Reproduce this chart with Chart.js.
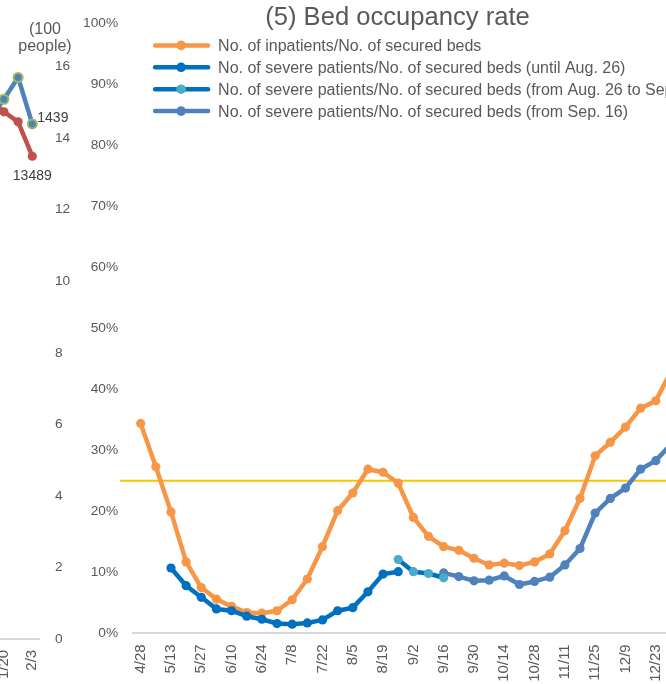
<!DOCTYPE html>
<html><head><meta charset="utf-8">
<script src="https://cdn.jsdelivr.net/npm/chart.js@4.4.1/dist/chart.umd.min.js"></script>
<style>
html,body{margin:0;padding:0;overflow:hidden;background:#fff;}
#wrap{position:relative;width:666px;height:684px;overflow:hidden;background:#fff;}
#left{position:absolute;left:-320px;top:0;}
#main{position:absolute;left:0;top:0;}
</style></head><body>
<div id="wrap">
<canvas id="left" width="400" height="684"></canvas>
<canvas id="main" width="795" height="684"></canvas>
</div>
<script>
// ---------- main chart data ----------
const dates = ['4/28','5/6','5/13','5/20','5/27','6/3','6/10','6/17','6/24','7/1','7/8','7/15','7/22','7/29','8/5','8/12','8/19','8/26','9/2','9/9','9/16','9/23','9/30','10/7','10/14','10/21','10/28','11/4','11/11','11/18','11/25','12/2','12/9','12/16','12/23','12/30'];
const inpatientRate = [34.4,27.3,19.9,11.7,7.5,5.6,4.4,3.4,3.3,3.7,5.5,8.9,14.2,20.1,23.0,26.9,26.4,24.6,19.0,15.9,14.2,13.6,12.3,11.2,11.5,11.1,11.7,13.0,16.8,22.1,29.1,31.3,33.8,36.9,38.1,42.9];
const severeUntilAug26 = [null,null,10.7,7.8,5.9,4.0,3.7,2.8,2.3,1.6,1.5,1.7,2.2,3.7,4.2,6.8,9.7,10.1,null,null,null,null,null,null,null,null,null,null,null,null,null,null,null,null,null,null];
const severeAug26toSep16 = [null,null,null,null,null,null,null,null,null,null,null,null,null,null,null,null,null,12.1,10.1,9.8,9.1,null,null,null,null,null,null,null,null,null,null,null,null,null,null,null];
const severeFromSep16 = [null,null,null,null,null,null,null,null,null,null,null,null,null,null,null,null,null,null,null,null,9.9,9.3,8.6,8.7,9.4,8.0,8.5,9.2,11.2,13.9,19.7,22.1,23.8,26.9,28.3,31.0];
const seriesNames = ['No. of inpatients/No. of secured beds','No. of severe patients/No. of secured beds (until Aug. 26)','No. of severe patients/No. of secured beds (from Aug. 26 to Sep. 16)','No. of severe patients/No. of secured beds (from Sep. 16)'];
const targetRate = [25];
const mainTitle = '(5) Bed occupancy rate';

// ---------- left (neighbouring) chart data ----------
const leftDates = ['1/13','1/20','1/27','2/3'];
const leftBlue = [1450,1508,1569,1439];
const leftRed = [15100,14730,14450,13489];
const leftAxisTitle = ['(100', 'people)'];

const FONT = "'Liberation Sans', Arial, sans-serif";
const GREY = '#595959';

function lineSet(label, data, line, marker, order) {
  return {label, data, borderColor: line, backgroundColor: marker,
    pointBackgroundColor: marker, pointBorderColor: marker, pointBorderWidth: 0,
    borderWidth: 4.5, pointRadius: 4.6, pointHoverRadius: 4.6,
    borderJoinStyle: 'round', borderCapStyle: 'round', tension: 0, spanGaps: false, order};
}

const refLine = {
  id: 'refLine',
  beforeDatasetsDraw(chart) {
    const {ctx, chartArea, scales} = chart;
    const y = scales.y.getPixelForValue(targetRate[0]);
    ctx.save();
    ctx.strokeStyle = '#FFC000';
    ctx.lineWidth = 2;
    ctx.beginPath();
    ctx.moveTo(chartArea.left - 13, y);
    ctx.lineTo(chart.width, y);
    ctx.stroke();
    ctx.restore();
  }
};

const sideLegend = {
  id: 'sideLegend',
  afterDraw(chart) {
    const {ctx, chartArea} = chart;
    const x0 = chartArea.left + 22, y0 = chartArea.top + 22.2, dy = 21.9;
    ctx.save();
    chart.data.datasets.forEach((d, i) => {
      const y = y0 + i * dy;
      ctx.strokeStyle = d.borderColor;
      ctx.lineWidth = 4.5;
      ctx.lineCap = 'round';
      ctx.beginPath();
      ctx.moveTo(x0, y);
      ctx.lineTo(x0 + 53, y);
      ctx.stroke();
      ctx.fillStyle = d.pointBackgroundColor;
      ctx.beginPath();
      ctx.arc(x0 + 26, y, 4.8, 0, Math.PI * 2);
      ctx.fill();
      ctx.fillStyle = GREY;
      ctx.font = '16px ' + FONT;
      ctx.textAlign = 'left';
      ctx.textBaseline = 'middle';
      ctx.fillText(d.label, x0 + 63, y + 1);
    });
    ctx.restore();
  }
};

new Chart(document.getElementById('main'), {
  type: 'line',
  data: {
    labels: dates,
    datasets: [
      lineSet(seriesNames[0], inpatientRate, '#F79646', '#F79646', 3),
      lineSet(seriesNames[1], severeUntilAug26, '#0070C0', '#0070C0', 2),
      lineSet(seriesNames[2], severeAug26toSep16, '#0070C0', '#4BACC6', 0),
      lineSet(seriesNames[3], severeFromSep16, '#4F81BD', '#4F81BD', 1)
    ]
  },
  options: {
    responsive: false, animation: false, events: [],
    layout: {padding: 0},
    plugins: {
      legend: {display: false}, tooltip: {enabled: false},
      title: {display: true, text: mainTitle, color: GREY,
        font: {family: FONT, size: 25.6, weight: 'normal', lineHeight: 1.2},
        padding: {top: 2.5, bottom: -10.2}}
    },
    scales: {
      x: {type: 'category', offset: true,
        grid: {display: false, drawTicks: false},
        border: {display: true, color: '#D9D9D9', width: 2},
        ticks: {autoSkip: false, maxRotation: 90, minRotation: 90, padding: 11, color: GREY,
          font: {family: FONT, size: 15},
          callback: (v, i) => (i % 2 === 0 ? dates[i] : '')},
        afterFit: s => { s.height = 50.7; }
      },
      y: {min: 0, max: 100,
        grid: {display: false, drawTicks: false},
        border: {display: false},
        ticks: {stepSize: 10, padding: 15, color: GREY, font: {family: FONT, size: 13.7},
          callback: v => v + '%'},
        afterFit: s => { s.width = 133.1; }
      },
      spare: {position: 'right', display: true,
        grid: {display: false, drawTicks: false}, border: {display: false},
        ticks: {display: false},
        afterFit: s => { s.width = 116.5; }
      }
    }
  },
  plugins: [refLine, sideLegend]
});

// ---------- left chart ----------
const leftExtras = {
  id: 'leftExtras',
  afterDraw(chart) {
    const {ctx, chartArea} = chart;
    ctx.save();
    ctx.fillStyle = GREY;
    ctx.font = '16px ' + FONT;
    ctx.textAlign = 'center';
    ctx.textBaseline = 'middle';
    const cx = chartArea.right + 5.6;
    ctx.fillText(leftAxisTitle[0], cx, 30);
    ctx.fillText(leftAxisTitle[1], cx, 47);
    const n = leftDates.length - 1;
    const pb = chart.getDatasetMeta(0).data[n];
    const pr = chart.getDatasetMeta(1).data[n];
    ctx.fillStyle = '#404040';
    ctx.font = '14px ' + FONT;
    ctx.textAlign = 'left';
    ctx.fillText(String(leftBlue[n]), pb.x + 5, pb.y - 6);
    ctx.textAlign = 'center';
    ctx.fillText(String(leftRed[n]), pr.x, pr.y + 19.5);
    ctx.restore();
  }
};

new Chart(document.getElementById('left'), {
  type: 'line',
  data: {
    labels: leftDates,
    datasets: [
      {label: 'blue', data: leftBlue, yAxisID: 'yB', borderColor: '#4F81BD', borderWidth: 4.5,
        pointBackgroundColor: '#4F81BD', pointBorderColor: '#9BBB59', pointBorderWidth: 2, pointRadius: 4.5,
        borderJoinStyle: 'round', tension: 0, order: 0},
      {label: 'red', data: leftRed, yAxisID: 'yR', borderColor: '#C0504D', borderWidth: 4.5,
        pointBackgroundColor: '#C0504D', pointBorderColor: '#C0504D', pointBorderWidth: 0, pointRadius: 4.6,
        borderJoinStyle: 'round', tension: 0, order: 1}
    ]
  },
  options: {
    responsive: false, animation: false, events: [],
    layout: {padding: {left: 302.6, right: 0, top: 66.3, bottom: 0}},
    plugins: {legend: {display: false}, tooltip: {enabled: false}},
    scales: {
      x: {type: 'category', offset: true,
        grid: {display: false, drawTicks: false},
        border: {display: true, color: '#D9D9D9', width: 2},
        ticks: {autoSkip: false, maxRotation: 90, minRotation: 90, padding: 10.5, color: GREY,
          font: {family: FONT, size: 15},
          callback: (v, i) => ((leftDates.length - 1 - i) % 2 === 0 ? leftDates[i] : '')},
        afterFit: s => { s.height = 44.7; }
      },
      yR: {position: 'left', display: false, min: 0, max: 16000},
      yB: {position: 'right', min: 0, max: 1600,
        grid: {display: false, drawTicks: false}, border: {display: false},
        ticks: {stepSize: 200, padding: 15.5, color: GREY, font: {family: FONT, size: 13.7},
          callback: v => String(v / 100)},
        afterFit: s => { s.width = 40.6; }
      }
    }
  },
  plugins: [leftExtras]
});
</script>
</body></html>
